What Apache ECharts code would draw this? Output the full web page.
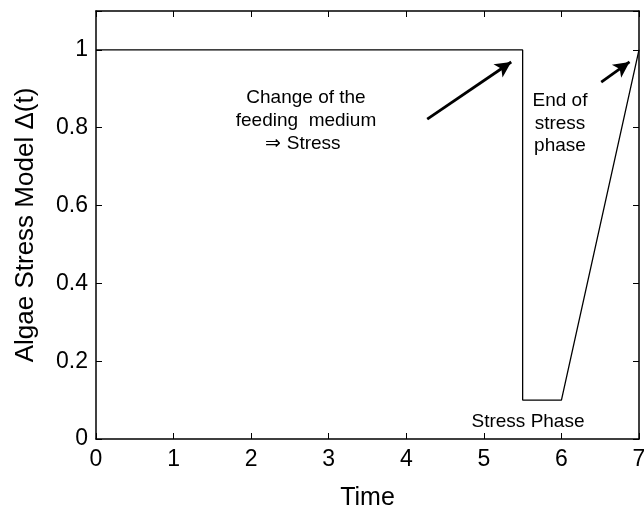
<!DOCTYPE html>
<html><head><meta charset="utf-8">
<script src="https://cdn.jsdelivr.net/npm/echarts@6/dist/echarts.min.js"></script>
<style>html,body{margin:0;padding:0;background:#fff}#c{width:644px;height:512px}</style>
</head><body><div id="c"></div>
<script>
const timeValues = [0, 5.5, 5.5, 6, 7];
const stressValues = [1, 1, 0.1, 0.1, 1];
const xTicks = [0, 1, 2, 3, 4, 5, 6, 7];
const yTicks = [0, 0.2, 0.4, 0.6, 0.8, 1];
const arrow1 = [[4.27, 0.822], [5.353, 0.969]];
const arrow2 = [[6.513, 0.917], [6.878, 0.969]];

const font = 'Liberation Sans, Arial, Helvetica, sans-serif';
const chart = echarts.init(document.getElementById('c'));
const axisCommon = {
  axisLine: {show: true, onZero: false, lineStyle: {color: '#000', width: 1.5}},
  axisTick: {show: true, inside: true, length: 6, lineStyle: {color: '#000', width: 1}},
  splitLine: {show: false}
};
const annot = (text, x, y) => ({type: 'text', x: x, y: y, style: {text: text, fontSize: 19, fontFamily: font, fill: '#000', align: 'center', verticalAlign: 'middle'}});
chart.setOption({
  animation: false,
  backgroundColor: '#fff',
  grid: {left: 96, right: 5, top: 11, bottom: 73, containLabel: false, outerBoundsMode: 'none'},
  xAxis: [
    Object.assign({type: 'value', min: 0, max: 7, interval: 1, position: 'bottom',
      name: 'Time', nameLocation: 'middle', nameGap: 47,
      nameTextStyle: {fontSize: 25, color: '#000', fontFamily: font},
      axisLabel: {fontSize: 23, color: '#000', fontFamily: font, margin: 9,
        formatter: v => xTicks.includes(v) ? String(v) : ''}}, axisCommon),
    Object.assign({type: 'value', min: 0, max: 7, interval: 1, position: 'top',
      axisLabel: {show: false}}, axisCommon)
  ],
  yAxis: [
    Object.assign({type: 'value', min: 0, max: 1.1, interval: 0.2, position: 'left',
      name: 'Algae Stress Model \u0394(t)', nameLocation: 'middle', nameGap: 57,
      nameTextStyle: {fontSize: 26, color: '#000', fontFamily: font},
      axisLabel: {fontSize: 23, color: '#000', fontFamily: font, margin: 8,
        formatter: v => { const t = yTicks.find(y => Math.abs(y - v) < 1e-9); return t === undefined ? '' : String(t); }}}, axisCommon),
    Object.assign({type: 'value', min: 0, max: 1.1, interval: 0.2, position: 'right',
      axisLabel: {show: false}}, axisCommon)
  ],
  series: [{
    type: 'line',
    data: timeValues.map((t, i) => [t, stressValues[i]]),
    symbol: 'none',
    lineStyle: {color: '#000', width: 1.3},
    markLine: {
      silent: true,
      symbol: ['none', 'arrow'],
      symbolSize: [12, 16],
      label: {show: false},
      lineStyle: {color: '#000', width: 2.8, type: 'solid'},
      data: [
        [{coord: arrow1[0]}, {coord: arrow1[1]}],
        [{coord: arrow2[0]}, {coord: arrow2[1]}]
      ]
    }
  }],
  graphic: [
    annot('Change of the', 306, 98),
    annot('feeding  medium', 306, 121),
    annot('\u21D2 Stress', 303, 144),
    annot('End of', 560, 101),
    annot('stress', 560, 124),
    annot('phase', 560, 146),
    annot('Stress Phase', 528, 422)
  ]
});
</script></body></html>
